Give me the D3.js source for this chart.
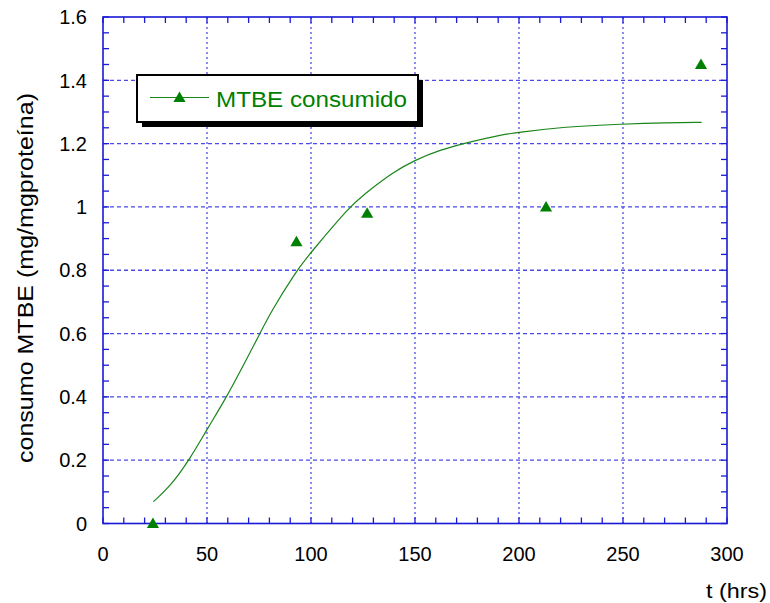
<!DOCTYPE html>
<html>
<head>
<meta charset="utf-8">
<script src="https://cdn.jsdelivr.net/npm/d3@7"></script>
<style>
  html, body { margin: 0; padding: 0; background: #fff; }
  svg { display: block; font-family: Arial, "Liberation Sans", sans-serif; }
</style>
</head>
<body>
<svg id="chart" width="770" height="603"></svg>
<script>
// Measured MTBE consumption (triangles)
const obsTime = [24, 93, 127, 213, 287.5];
const obsValue = [0, 0.89, 0.98, 1.0, 1.45];

// Fitted curve, sampled points
const fitTime = [24.2, 32.5, 41.8, 49.8, 59.5, 67.5, 75.5, 80.3, 93.1, 100.3, 118.5, 125, 139.6, 150, 162, 174.8, 190.9, 200, 221.3, 250.2, 271, 287.8];
const fitValue = [0.069, 0.118, 0.204, 0.295, 0.40, 0.50, 0.60, 0.664, 0.80, 0.859, 1.0, 1.037, 1.111, 1.148, 1.18, 1.203, 1.227, 1.236, 1.253, 1.262, 1.266, 1.267];

const xTicks = [0, 50, 100, 150, 200, 250, 300];
const yTicks = [0, 0.2, 0.4, 0.6, 0.8, 1, 1.2, 1.4, 1.6];
const seriesName = "MTBE consumido";

const svg = d3.select("#chart");
const L = 103, R = 727, T = 17, B = 523.5;
const x = d3.scaleLinear().domain([0, 300]).range([L, R]);
const y = d3.scaleLinear().domain([0, 1.6]).range([B, T]);

const axisBlue = "#1a1ad6";
const green = "#008000";

// grid
const grid = svg.append("g");
grid.selectAll("line.v").data(xTicks.slice(1, -1)).join("line")
  .attr("x1", d => x(d)).attr("x2", d => x(d)).attr("y1", T).attr("y2", B)
  .attr("stroke", "#6e6ef0").attr("stroke-width", 1.6).attr("stroke-dasharray", "2,3");
grid.selectAll("line.h").data(yTicks.slice(1, -1)).join("line")
  .attr("x1", L).attr("x2", R).attr("y1", d => y(d)).attr("y2", d => y(d))
  .attr("stroke", "#4a4ae6").attr("stroke-width", 1.3).attr("stroke-dasharray", "4,3");

// inward minor ticks on all four sides
const xMinor = d3.range(0, 301, 10);
const yMinor = d3.range(0, 1.6001, 0.05);
const tl = 6;
const ticks = svg.append("g").attr("stroke", axisBlue).attr("stroke-width", 1.3);
ticks.selectAll("line.b").data(xMinor).join("line")
  .attr("x1", d => x(d)).attr("x2", d => x(d)).attr("y1", B).attr("y2", B - tl);
ticks.selectAll("line.t").data(xMinor).join("line")
  .attr("x1", d => x(d)).attr("x2", d => x(d)).attr("y1", T).attr("y2", T + tl);
ticks.selectAll("line.l").data(yMinor).join("line")
  .attr("x1", L).attr("x2", L + tl).attr("y1", d => y(d)).attr("y2", d => y(d));
ticks.selectAll("line.r").data(yMinor).join("line")
  .attr("x1", R).attr("x2", R - tl).attr("y1", d => y(d)).attr("y2", d => y(d));

// frame
svg.append("rect").attr("x", L).attr("y", T).attr("width", R - L).attr("height", B - T)
  .attr("fill", "none").attr("stroke", axisBlue).attr("stroke-width", 1.6);

// tick labels
svg.append("g").selectAll("text").data(xTicks).join("text")
  .attr("x", d => x(d)).attr("y", 561).attr("text-anchor", "middle")
  .attr("font-size", 20).attr("fill", "#000").text(d => d);
svg.append("g").selectAll("text").data(yTicks).join("text")
  .attr("x", 87).attr("y", d => y(d)).attr("dy", "0.36em").attr("text-anchor", "end")
  .attr("font-size", 20).attr("fill", "#000").text(d => d);

// axis titles
svg.append("text").attr("x", 706).attr("y", 598)
  .attr("font-size", 21).attr("textLength", 61).attr("lengthAdjust", "spacingAndGlyphs").text("t (hrs)");
svg.append("text").attr("transform", "translate(33,278) rotate(-90)")
  .attr("x", -185).attr("font-size", 21.5).attr("textLength", 370).attr("lengthAdjust", "spacingAndGlyphs")
  .text("consumo MTBE (mg/mgproteína)");

// fitted curve
const line = d3.line().x((d, i) => x(fitTime[i])).y(d => y(d)).curve(d3.curveBasis);
svg.append("path").datum(fitValue).attr("d", line)
  .attr("fill", "none").attr("stroke", "#1a861a").attr("stroke-width", 1.2);

// observed points
const tri = d3.symbol().type(d3.symbolTriangle).size(64);
svg.append("g").selectAll("path").data(obsValue).join("path")
  .attr("d", tri)
  .attr("transform", (d, i) => `translate(${x(obsTime[i])},${y(d) + 1})`)
  .attr("fill", green);

// legend with drop shadow
const lg = svg.append("g");
const lx = 137, ly = 75, lw = 281, lh = 47;
lg.append("rect").attr("x", lx + 5).attr("y", ly + 5).attr("width", lw).attr("height", lh).attr("fill", "#000");
lg.append("rect").attr("x", lx).attr("y", ly).attr("width", lw).attr("height", lh)
  .attr("fill", "#fff").attr("stroke", "#000").attr("stroke-width", 2);
lg.append("line").attr("x1", 150).attr("x2", 209).attr("y1", 97.5).attr("y2", 97.5)
  .attr("stroke", "#1a861a").attr("stroke-width", 1.2);
lg.append("path").attr("d", tri).attr("transform", "translate(179.5,98.5)").attr("fill", green);
lg.append("text").attr("x", 216).attr("y", 106.5).attr("font-size", 22.5)
  .attr("textLength", 191).attr("lengthAdjust", "spacingAndGlyphs").attr("fill", green).text(seriesName);
</script>
</body>
</html>
